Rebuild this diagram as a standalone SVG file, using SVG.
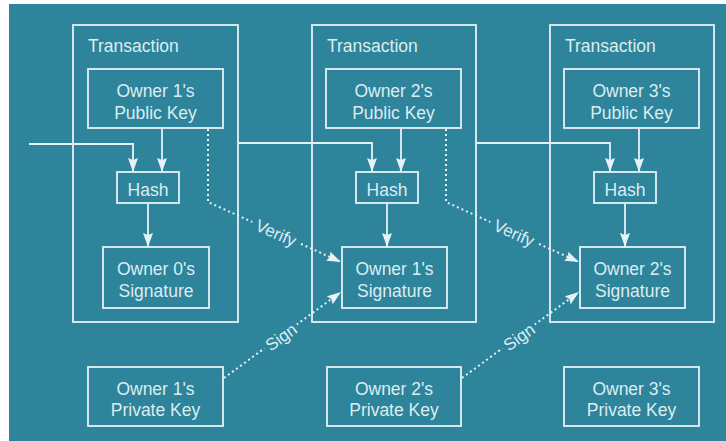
<svg xmlns="http://www.w3.org/2000/svg" width="726" height="441" viewBox="0 0 726 441">
<defs>
<style>
.bx{fill:none;stroke:#e6f2f5;stroke-width:1.8}
.ln{fill:none;stroke:#e6f2f5;stroke-width:1.8}
.dt{fill:none;stroke:#e6f2f5;stroke-width:2;stroke-dasharray:2 3}
.t{font-family:"Liberation Sans",Arial,sans-serif;font-size:17.5px;fill:#dcedf1;text-anchor:middle}
.tl{font-family:"Liberation Sans",Arial,sans-serif;font-size:17.5px;fill:#dcedf1}
.lb{font-family:"Liberation Sans",Arial,sans-serif;font-size:17px;fill:#dcedf1;text-anchor:middle}
.bg{fill:#2d849b}
</style>
<marker id="ah" viewBox="0 0 14 10" refX="14" refY="5" markerWidth="14" markerHeight="10" markerUnits="userSpaceOnUse" orient="auto">
<path d="M0,0 L14,5 L0,10 L2,5 z" fill="#e6f2f5"/>
</marker>
</defs>
<rect x="0" y="0" width="726" height="441" fill="#ffffff"/>
<rect class="bg" x="9" y="4" width="717" height="437"/>

<g id="tx1"><rect class="bx" x="73" y="25" width="165" height="297"/><text class="tl" x="88" y="52">Transaction</text></g>
<g id="tx2"><rect class="bx" x="312" y="25" width="164" height="297"/><text class="tl" x="327" y="52">Transaction</text></g>
<g id="tx3"><rect class="bx" x="550" y="25" width="164" height="297"/><text class="tl" x="565" y="52">Transaction</text></g>

<g id="pub1"><rect class="bx" x="88" y="69" width="135" height="59"/><text class="t" x="155.5" y="97">Owner 1's</text><text class="t" x="155.5" y="119">Public Key</text></g>
<g id="pub2"><rect class="bx" x="326" y="69" width="135" height="59"/><text class="t" x="393.5" y="97">Owner 2's</text><text class="t" x="393.5" y="119">Public Key</text></g>
<g id="pub3"><rect class="bx" x="564" y="69" width="135" height="59"/><text class="t" x="631.5" y="97">Owner 3's</text><text class="t" x="631.5" y="119">Public Key</text></g>

<g id="hash1"><rect class="bx" x="117" y="172" width="62" height="31"/><text class="t" x="148" y="196">Hash</text></g>
<g id="hash2"><rect class="bx" x="356" y="172" width="62" height="31"/><text class="t" x="387" y="196">Hash</text></g>
<g id="hash3"><rect class="bx" x="594" y="172" width="62" height="31"/><text class="t" x="625" y="196">Hash</text></g>

<g id="sig0"><rect class="bx" x="103" y="247" width="106" height="61"/><text class="t" x="156" y="275">Owner 0's</text><text class="t" x="156" y="297">Signature</text></g>
<g id="sig1"><rect class="bx" x="342" y="247" width="105" height="61"/><text class="t" x="394.5" y="275">Owner 1's</text><text class="t" x="394.5" y="297">Signature</text></g>
<g id="sig2"><rect class="bx" x="580" y="247" width="105" height="61"/><text class="t" x="632.5" y="275">Owner 2's</text><text class="t" x="632.5" y="297">Signature</text></g>

<g id="priv1"><rect class="bx" x="88" y="367" width="135" height="59"/><text class="t" x="155.5" y="395">Owner 1's</text><text class="t" x="155.5" y="416">Private Key</text></g>
<g id="priv2"><rect class="bx" x="327" y="367" width="134" height="59"/><text class="t" x="394" y="395">Owner 2's</text><text class="t" x="394" y="416">Private Key</text></g>
<g id="priv3"><rect class="bx" x="564" y="367" width="135" height="59"/><text class="t" x="631.5" y="395">Owner 3's</text><text class="t" x="631.5" y="416">Private Key</text></g>

<g id="connectors">
<polyline class="ln" points="29,144 133,144 133,172" marker-end="url(#ah)"/>
<line class="ln" x1="162" y1="128" x2="162" y2="172" marker-end="url(#ah)"/>
<line class="ln" x1="148" y1="203" x2="148" y2="247" marker-end="url(#ah)"/>

<polyline class="ln" points="238,143 372,143 372,172" marker-end="url(#ah)"/>
<line class="ln" x1="401" y1="128" x2="401" y2="172" marker-end="url(#ah)"/>
<line class="ln" x1="387" y1="203" x2="387" y2="247" marker-end="url(#ah)"/>

<polyline class="ln" points="476,143 610,143 610,172" marker-end="url(#ah)"/>
<line class="ln" x1="639" y1="128" x2="639" y2="172" marker-end="url(#ah)"/>
<line class="ln" x1="625" y1="203" x2="625" y2="247" marker-end="url(#ah)"/>

<polyline class="dt" points="208,129 208,202 341,262" marker-end="url(#ah)"/>
<polyline class="dt" points="446,129 446,202 579,262" marker-end="url(#ah)"/>
<line class="dt" x1="224" y1="378" x2="341" y2="292" marker-end="url(#ah)"/>
<line class="dt" x1="462" y1="378" x2="579" y2="292" marker-end="url(#ah)"/>

<g transform="translate(276,233) rotate(24)"><rect class="bg" x="-26" y="-8" width="52" height="16"/><text class="lb" y="6">Verify</text></g>
<g transform="translate(514,233) rotate(24)"><rect class="bg" x="-26" y="-8" width="52" height="16"/><text class="lb" y="6">Verify</text></g>
<g transform="translate(281,337) rotate(-36)"><rect class="bg" x="-20" y="-8" width="40" height="16"/><text class="lb" y="6">Sign</text></g>
<g transform="translate(519,337) rotate(-36)"><rect class="bg" x="-20" y="-8" width="40" height="16"/><text class="lb" y="6">Sign</text></g>
</g>
</svg>
